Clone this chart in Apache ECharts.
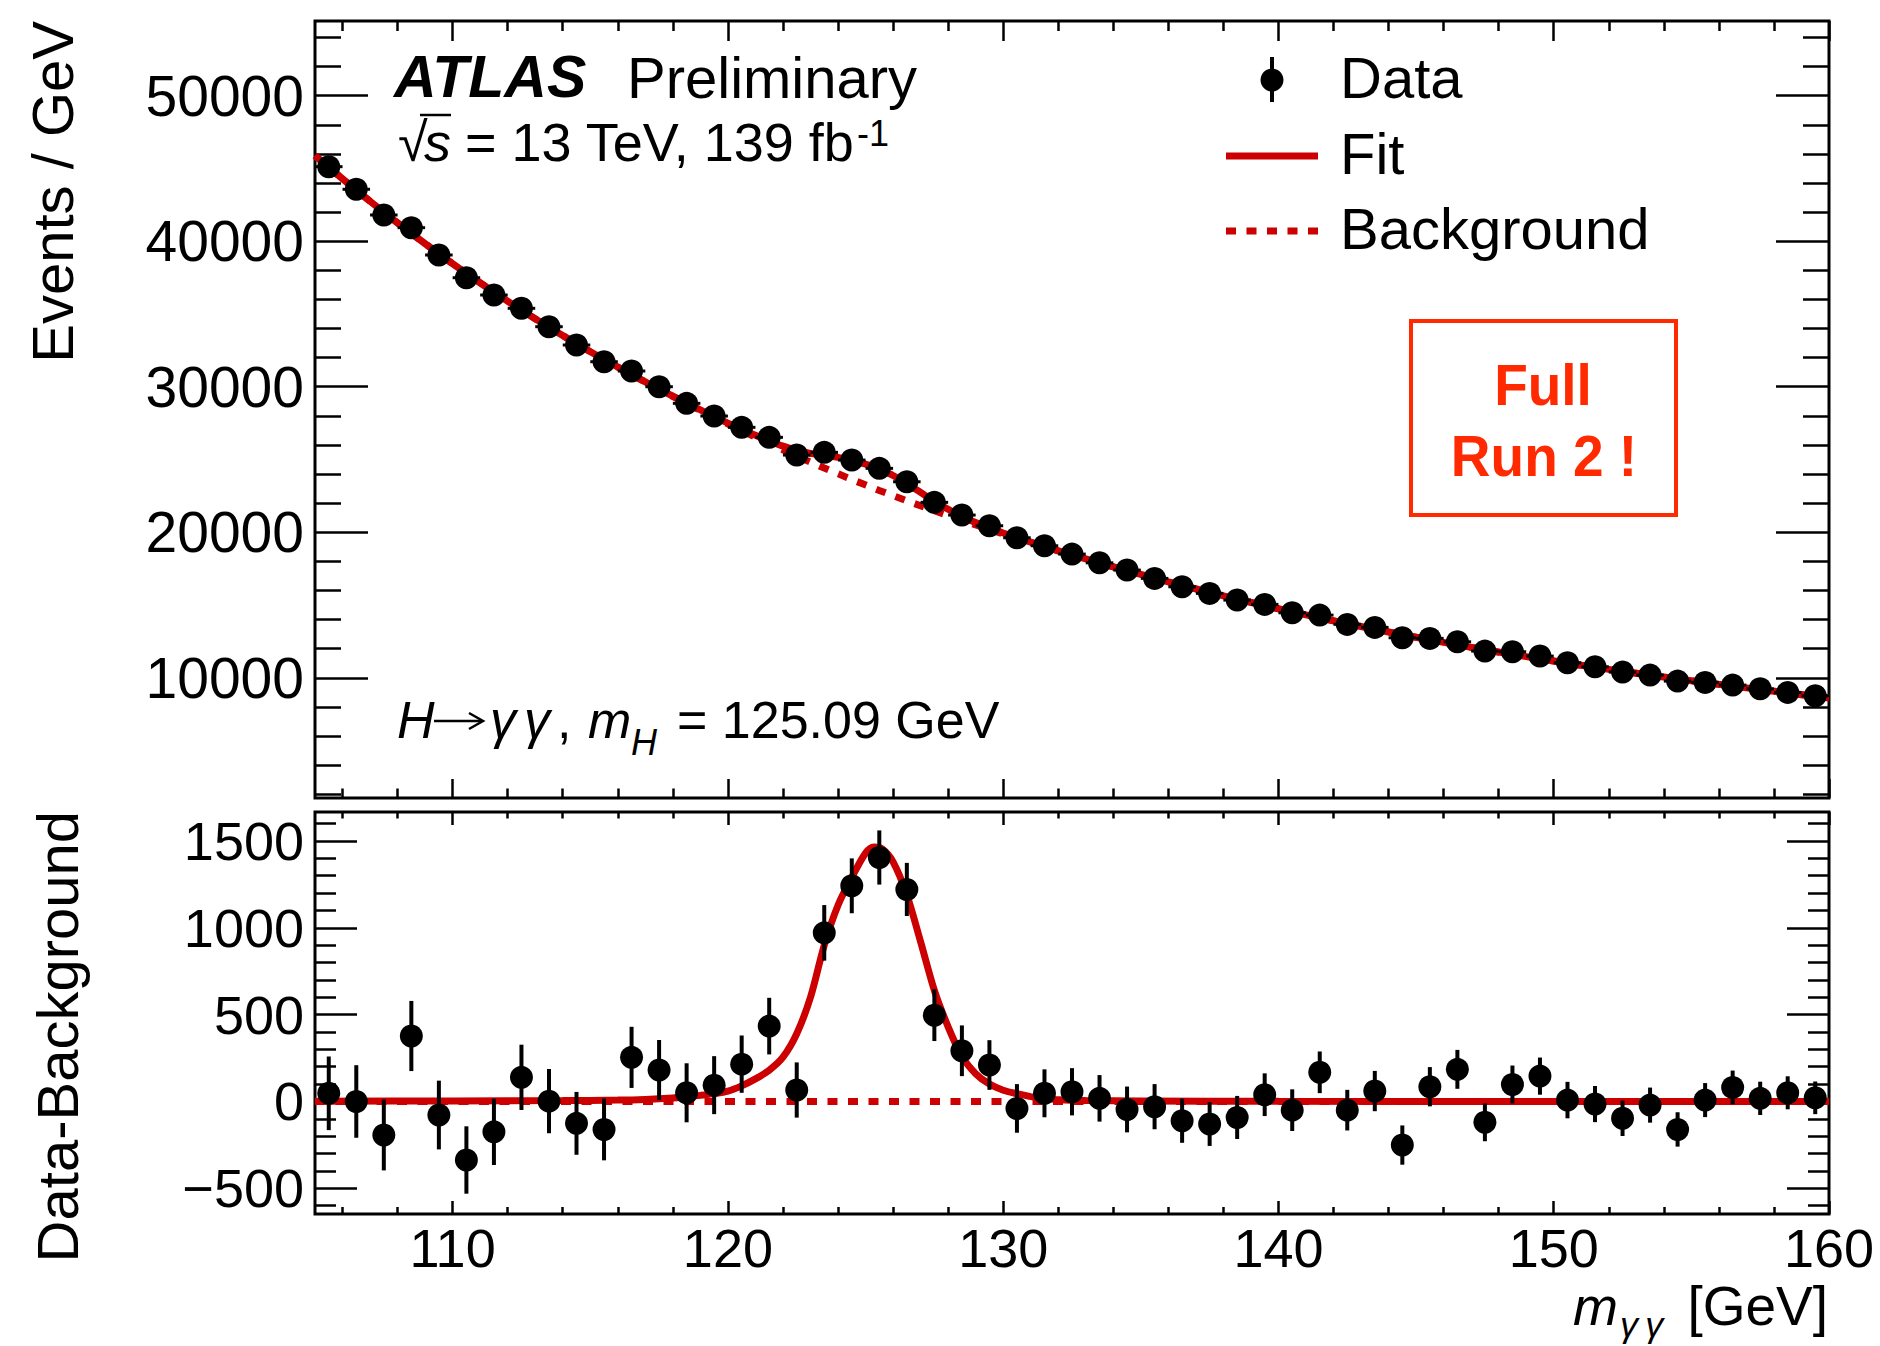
<!DOCTYPE html>
<html><head><meta charset="utf-8">
<script src="https://cdn.jsdelivr.net/npm/echarts@6.0.0/dist/echarts.min.js"></script>
<style>html,body{margin:0;padding:0;background:#fff}#c{width:1880px;height:1346px}</style>
</head><body><div id="c"></div>
<script>
// ---------------- data ----------------
const binCenters = [105.5,106.5,107.5,108.5,109.5,110.5,111.5,112.5,113.5,114.5,115.5,116.5,117.5,118.5,119.5,120.5,121.5,122.5,123.5,124.5,125.5,126.5,127.5,128.5,129.5,130.5,131.5,132.5,133.5,134.5,135.5,136.5,137.5,138.5,139.5,140.5,141.5,142.5,143.5,144.5,145.5,146.5,147.5,148.5,149.5,150.5,151.5,152.5,153.5,154.5,155.5,156.5,157.5,158.5,159.5];
const dataEvents = [45120,43567,41800,40928,39051,37491,36302,35388,34124,32866,31718,31079,30000,28858,27986,27209,26522,25305,25490,24961,24391,23470,22055,21181,20446,19621,19071,18500,17900,17402,16830,16253,15800,15340,15044,14466,14308,13670,13463,12748,12707,12473,11834,11788,11492,11030,10756,10392,10185,9773,9683,9498,9243,8996,8762];
const dataErrors = [212,209,204,202,198,194,191,188,185,181,178,176,173,170,167,165,163,159,160,158,156,153,149,146,143,140,138,136,134,132,130,127,126,124,123,120,120,117,116,113,113,112,109,109,107,105,104,102,101,99,98,97,96,95,94];
const dataMinusBkg = [47,0,-193,377,-78,-337,-175,139,2,-126,-161,254,181,50,94,215,434,66,971,1242,1405,1221,497,292,210,-40,47,56,18,-46,-30,-111,-130,-92,39,-50,168,-50,60,-251,85,185,-120,98,146,8,-15,-97,-21,-161,8,81,18,50,21];

const bkgX = [105,105.5,106.5,107.5,108.5,109.5,110.5,111.5,112.5,113.5,114.5,115.5,116.5,117.5,118.5,119.5,120.5,121.5,122.5,123.5,124.5,125.5,126.5,127.5,128.5,129.5,130.5,131.5,132.5,133.5,134.5,135.5,136.5,137.5,138.5,139.5,140.5,141.5,142.5,143.5,144.5,145.5,146.5,147.5,148.5,149.5,150.5,151.5,152.5,153.5,154.5,155.5,156.5,157.5,158.5,159.5,160];
const bkgY = [45875,45075,43505,41991,40533,39131,37785,36495,35261,34081,32951,31871,30826,29816,28841,27896,26981,26096,25231,24411,23626,22876,22161,21476,20821,20191,19586,19001,18436,17891,17361,16846,16346,15866,15406,14961,14531,14116,13716,13331,12961,12604,12259,11926,11606,11298,11002,10717,10442,10177,9919,9669,9425,9187,8954,8726,8614];

const fitX = [105,105.5,106.5,107.5,108.5,109.5,110.5,111.5,112.5,113.5,114.5,115.5,116.5,117.5,118,118.5,119,119.5,120,120.5,121,121.5,122,122.5,123,123.5,124,124.5,125,125.3,125.6,126,126.5,127,127.5,128,128.5,129,129.5,130,130.5,131,131.5,132,132.5,133,133.5,134.5,135.5,136.5,137.5,138.5,139.5,140.5,141.5,142.5,143.5,144.5,145.5,146.5,147.5,148.5,149.5,150.5,151.5,152.5,153.5,154.5,155.5,156.5,157.5,158.5,159.5,160];
const fitY = [45877,45078,43508,41994,40536,39134,37788,36498,35264,34085,32956,31878,30836,29831,29348,28868,28403,27941,27498,27071,26668,26276,25918,25621,25421,25311,25148,24916,24681,24491,24259,23898,23351,22738,22116,21578,21081,20666,20291,19953,19631,19321,19019,18728,18444,18168,17895,17363,16848,16347,15867,15407,14962,14532,14117,13717,13332,12962,12605,12260,11927,11607,11299,11003,10718,10443,10178,9920,9670,9426,9188,8955,8727,8614];

const sigX = [105,110,114,116,117,118,118.5,119,119.5,120,120.5,121,121.5,122,122.5,123,123.5,124,124.5,125,125.3,125.6,126,126.5,127,127.5,128,128.5,129,129.5,130,130.5,131,131.5,132,133,135,140,150,160];
const sigY = [2,3,5,8,12,20,27,35,45,60,90,130,180,255,390,600,900,1130,1290,1430,1465,1455,1380,1190,920,640,430,260,160,100,65,45,28,18,10,5,3,1,0,0];
const zeroX = [105,160];
const zeroY = [0,0];

// ---------------- ticks / labels ----------------
const xMajor = [110,120,130,140,150,160];
const xMinor = [106,108,112,114,116,118,122,124,126,128,132,134,136,138,142,144,146,148,152,154,156,158];
const xLabels = [110,120,130,140,150,160];
const yTopMajor = [10000,20000,30000,40000,50000];
const yTopMinor = [2000,4000,6000,8000,12000,14000,16000,18000,22000,24000,26000,28000,32000,34000,36000,38000,42000,44000,46000,48000,52000,54000];
const yTopLabels = [10000,20000,30000,40000,50000];
const yBotMajor = [-500,0,500,1000,1500];
const yBotMinor = [-600,-400,-300,-200,-100,100,200,300,400,600,700,800,900,1100,1200,1300,1400,1600];
const yBotLabels = [-500,0,500,1000,1500];

const X_RANGE = [105, 160];
const Y_TOP_RANGE = [1740, 55130];
const Y_BOT_RANGE = [-648, 1667];

// ---------------- styling ----------------
const FONT = '"Liberation Sans", Arial, Helvetica, sans-serif';
const RED = '#cc0000';
const BOXRED = '#ff2a00';
const fmt = v => (v < 0 ? '\u2212' + (-v) : String(v));
const zip = (a, b) => a.map((v, i) => [v, b[i]]);

function xAx(grid, pos, ticks, len, labels) {
  return {
    type: 'value', gridIndex: grid, position: pos, min: X_RANGE[0], max: X_RANGE[1],
    axisLine: {show: false, onZero: false}, splitLine: {show: false},
    axisTick: {show: true, inside: true, length: len, customValues: ticks, lineStyle: {color: '#000', width: 2.5}},
    axisLabel: labels ? {show: true, customValues: labels, formatter: fmt, fontSize: 54, fontFamily: FONT, color: '#000', margin: 7, lineHeight: 54, showMinLabel: true, showMaxLabel: true} : {show: false}
  };
}
function yAx(grid, pos, ticks, len, range, labels, fs) {
  return {
    type: 'value', gridIndex: grid, position: pos, min: range[0], max: range[1],
    axisLine: {show: false, onZero: false}, splitLine: {show: false},
    axisTick: {show: true, inside: true, length: len, customValues: ticks, lineStyle: {color: '#000', width: 2.5}},
    axisLabel: labels ? {show: true, customValues: labels, formatter: fmt, fontSize: fs, fontFamily: FONT, color: '#000', margin: 11, showMinLabel: true, showMaxLabel: true} : {show: false}
  };
}

function errBar(withX) {
  return function (params, api) {
    const x = api.value(0), y = api.value(1), e = api.value(2);
    const p1 = api.coord([x, y + e]), p2 = api.coord([x, y - e]);
    const children = [{type: 'line', shape: {x1: p1[0], y1: p1[1], x2: p2[0], y2: p2[1]}, style: {stroke: '#000', lineWidth: 4}}];
    if (withX) {
      const a = api.coord([x - 0.5, y]), b = api.coord([x + 0.5, y]);
      children.push({type: 'line', shape: {x1: a[0], y1: a[1], x2: b[0], y2: b[1]}, style: {stroke: '#000', lineWidth: 3}});
    }
    return {type: 'group', children: children};
  };
}

function T(text, x, y, size, o) {
  o = o || {};
  const font = (o.italic ? 'italic ' : '') + (o.bold ? 'bold ' : '') + size + 'px ' + (o.family || FONT);
  return {
    type: 'text', x: x, y: y, rotation: o.rot || 0, scaleX: o.sx || 1, scaleY: o.sy || 1, z: 100, silent: true,
    style: {text: text, x: 0, y: 0, font: font, fill: o.color || '#000',
      textAlign: o.align || 'left', align: o.align || 'left',
      textVerticalAlign: 'middle', verticalAlign: 'middle'}
  };
}
function L(x1, y1, x2, y2, color, w, dash) {
  const st = {stroke: color, lineWidth: w};
  if (dash) st.lineDash = dash;
  return {type: 'line', z: 100, silent: true, shape: {x1: x1, y1: y1, x2: x2, y2: y2}, style: st};
}

const graphics = [
  // ATLAS label
  T('ATLAS', 394, 77, 59, {bold: true, italic: true}),
  T('Preliminary', 627, 77, 58),
  T('\u221A', 398, 142, 54),
  T('s', 424, 142, 54, {italic: true}),
  L(420, 115, 451, 115, '#000', 2.5),
  T('= 13 TeV, 139 fb', 465, 142, 54),
  T('-1', 857, 133, 36),
  // H->gamma gamma
  T('H', 397, 720, 52, {italic: true}),
  L(434, 721, 481, 721, '#000', 2.5),
  {type: 'polyline', z: 100, silent: true, shape: {points: [[469, 713], [483, 721], [469, 729]]}, style: {stroke: '#000', lineWidth: 2.5, fill: null}},
  T('\u03B3', 490, 720, 52, {italic: true}),
  T('\u03B3', 524, 720, 52, {italic: true}),
  T(',', 557, 720, 52),
  T('m', 588, 720, 52, {italic: true}),
  T('H', 631, 742, 36, {italic: true}),
  T('= 125.09 GeV', 677, 720, 52),
  // legend
  L(1272, 57, 1272, 102, '#000', 4),
  {type: 'circle', z: 100, silent: true, shape: {cx: 1272, cy: 80, r: 11.5}, style: {fill: '#000'}},
  T('Data', 1340, 77, 58),
  L(1226, 156, 1318, 156, RED, 7),
  T('Fit', 1340, 153, 58),
  L(1226, 231, 1318, 231, RED, 7, [10, 10.5]),
  T('Background', 1340, 228, 58),
  // Full Run 2 box
  {type: 'rect', z: 100, silent: true, shape: {x: 1411, y: 321, width: 265, height: 194}, style: {fill: 'transparent', stroke: BOXRED, lineWidth: 4}},
  T('Full', 1543, 385, 55, {bold: true, color: BOXRED, align: 'center', sy: 1.06}),
  T('Run 2 !', 1544, 456, 55, {bold: true, color: BOXRED, align: 'center', sy: 1.06}),
  // axis titles
  T('Events / GeV', 52, 21, 58, {rot: Math.PI / 2, align: 'right'}),
  T('Data-Background', 57, 811, 58, {rot: Math.PI / 2, align: 'right'}),
  T('m', 1573, 1306, 54, {italic: true}),
  T('\u03B3\u2009\u03B3', 1620, 1324, 36, {italic: true}),
  T('[GeV]', 1828, 1306, 55, {align: 'right'})
];

const chart = echarts.init(document.getElementById('c'), null, {renderer: 'svg', width: 1880, height: 1346});
chart.setOption({
  animation: false,
  backgroundColor: '#fff',
  textStyle: {fontFamily: FONT},
  grid: [
    {left: 315, top: 21, width: 1514, height: 777, show: true, borderColor: '#000', borderWidth: 3, containLabel: false, outerBoundsMode: 'none'},
    {left: 315, top: 812, width: 1514, height: 402, show: true, borderColor: '#000', borderWidth: 3, containLabel: false, outerBoundsMode: 'none'}
  ],
  xAxis: [
    xAx(0, 'bottom', xMajor, 19, null),
    xAx(0, 'bottom', xMinor, 9.5, null),
    xAx(0, 'top', xMajor, 20, null),
    xAx(0, 'top', xMinor, 10, null),
    xAx(1, 'bottom', xMajor, 13, xLabels),
    xAx(1, 'bottom', xMinor, 7, null),
    xAx(1, 'top', xMajor, 13, null),
    xAx(1, 'top', xMinor, 6.5, null)
  ],
  yAxis: [
    yAx(0, 'left', yTopMajor, 53, Y_TOP_RANGE, yTopLabels, 57),
    yAx(0, 'left', yTopMinor, 26, Y_TOP_RANGE, null),
    yAx(0, 'right', yTopMajor, 53, Y_TOP_RANGE, null),
    yAx(0, 'right', yTopMinor, 26, Y_TOP_RANGE, null),
    yAx(1, 'left', yBotMajor, 42, Y_BOT_RANGE, yBotLabels, 54),
    yAx(1, 'left', yBotMinor, 21, Y_BOT_RANGE, null),
    yAx(1, 'right', yBotMajor, 42, Y_BOT_RANGE, null),
    yAx(1, 'right', yBotMinor, 21, Y_BOT_RANGE, null)
  ],
  series: [
    {type: 'line', name: 'Background', xAxisIndex: 0, yAxisIndex: 0, data: zip(bkgX, bkgY), showSymbol: false, symbol: 'none', silent: true, z: 2,
      lineStyle: {color: RED, width: 7, type: [10, 10.5], cap: 'butt'}},
    {type: 'line', name: 'Fit', xAxisIndex: 0, yAxisIndex: 0, data: zip(fitX, fitY), showSymbol: false, symbol: 'none', silent: true, smooth: 0.3, z: 3,
      lineStyle: {color: RED, width: 7}},
    {type: 'custom', xAxisIndex: 0, yAxisIndex: 0, silent: true, z: 4,
      data: binCenters.map((x, i) => [x, dataEvents[i], dataErrors[i]]), renderItem: errBar(true)},
    {type: 'scatter', name: 'Data', xAxisIndex: 0, yAxisIndex: 0, silent: true, z: 5, symbol: 'circle', symbolSize: 23,
      itemStyle: {color: '#000', opacity: 1}, data: zip(binCenters, dataEvents)},

    {type: 'line', name: 'Background', xAxisIndex: 4, yAxisIndex: 4, data: zip(zeroX, zeroY), showSymbol: false, symbol: 'none', silent: true, z: 2,
      lineStyle: {color: RED, width: 7, type: [10, 10.5], cap: 'butt'}},
    {type: 'line', name: 'Fit', xAxisIndex: 4, yAxisIndex: 4, data: zip(sigX, sigY), showSymbol: false, symbol: 'none', silent: true, smooth: 0.3, z: 3,
      lineStyle: {color: RED, width: 7}},
    {type: 'custom', xAxisIndex: 4, yAxisIndex: 4, silent: true, z: 4,
      data: binCenters.map((x, i) => [x, dataMinusBkg[i], dataErrors[i]]), renderItem: errBar(false)},
    {type: 'scatter', name: 'Data', xAxisIndex: 4, yAxisIndex: 4, silent: true, z: 5, symbol: 'circle', symbolSize: 23,
      itemStyle: {color: '#000', opacity: 1}, data: zip(binCenters, dataMinusBkg)}
  ],
  graphic: graphics
});
</script>
</body></html>
